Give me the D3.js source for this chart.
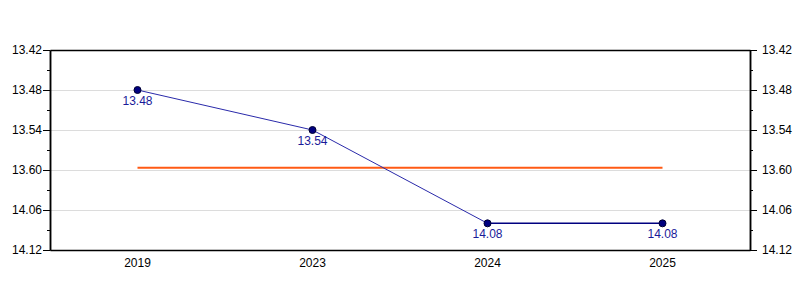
<!DOCTYPE html>
<html><head><meta charset="utf-8">
<script src="https://cdn.jsdelivr.net/npm/d3@7"></script>
<style>body{margin:0;background:#fff}svg{display:block;font-family:Arial,"Liberation Sans",sans-serif}</style>
</head><body><svg id="c" width="800" height="300"></svg>
<script>
const years = ["2019","2023","2024","2025"];
const labels = ["13.48","13.54","14.08","14.08"];
const seconds = [828, 834, 848, 848];
const tickSeconds = [822, 828, 834, 840, 846, 852];
const tickLabels = ["13.42","13.48","13.54","13.60","14.06","14.12"];
const minorTicks = [825, 831, 837, 843, 849];
const targetSeconds = 839.65;

const svg = d3.select("#c");
const L = 50, R = 750, T = 50, B = 250;
const x = d3.scaleBand().domain(years).range([L, R]).padding(0);
const y = d3.scaleLinear().domain([822, 852]).range([T, B]);
const cx = d => x(d) + x.bandwidth() / 2;

// grid
svg.append("g").selectAll("line").data(tickSeconds.slice(1, -1)).join("line")
  .attr("x1", L).attr("x2", R).attr("y1", d => y(d)).attr("y2", d => y(d))
  .attr("stroke", "#dcdcdc").attr("stroke-width", 1).attr("shape-rendering", "crispEdges");

// axes
const fmt = d => tickLabels[tickSeconds.indexOf(d)];
const gl = svg.append("g").attr("transform", `translate(${L},0)`)
  .call(d3.axisLeft(y).tickValues(tickSeconds).tickFormat(fmt).tickSize(7).tickPadding(1).tickSizeOuter(0));
const gr = svg.append("g").attr("transform", `translate(${R},0)`)
  .call(d3.axisRight(y).tickValues(tickSeconds).tickFormat(fmt).tickSize(7).tickPadding(5).tickSizeOuter(0));
svg.append("g").attr("transform", `translate(${L},0)`)
  .call(d3.axisLeft(y).tickValues(minorTicks).tickFormat("").tickSize(3).tickSizeOuter(0));
svg.append("g").attr("transform", `translate(${R},0)`)
  .call(d3.axisRight(y).tickValues(minorTicks).tickFormat("").tickSize(3).tickSizeOuter(0));
const gb = svg.append("g").attr("transform", `translate(0,${B})`)
  .call(d3.axisBottom(x).tickSize(0).tickSizeOuter(0).tickPadding(8));
const gt = svg.append("g").attr("transform", `translate(0,${T})`)
  .call(d3.axisTop(x).tickSize(0).tickSizeOuter(0).tickFormat(""));
[gl, gr, gb].forEach(g => g.selectAll("text").attr("font-size", 12).attr("fill", "#000").attr("font-family", "Arial, Liberation Sans, sans-serif"));
svg.selectAll(".domain").attr("stroke", "#000").attr("stroke-width", 1.5);
svg.selectAll(".tick line").attr("stroke", "#000");

// target line
svg.append("line").attr("x1", cx(years[0])).attr("x2", cx(years[years.length - 1]))
  .attr("y1", y(targetSeconds)).attr("y2", y(targetSeconds))
  .attr("stroke", "#ff5a14").attr("stroke-width", 2);

const pts = years.map((yr, i) => ({yr, v: seconds[i], lab: labels[i]}));
const line = d3.line().x(d => cx(d.yr)).y(d => y(d.v));
svg.append("path").datum(pts.slice(0, 3)).attr("d", line)
  .attr("fill", "none").attr("stroke", "#2a2aaa").attr("stroke-width", 1);
svg.append("path").datum(pts.slice(2)).attr("d", line)
  .attr("fill", "none").attr("stroke", "#000080").attr("stroke-width", 1.5);

svg.append("g").selectAll("circle").data(pts).join("circle")
  .attr("cx", d => cx(d.yr)).attr("cy", d => y(d.v)).attr("r", 3.5)
  .attr("fill", "#000080").attr("stroke", "#000033").attr("stroke-width", 1);
svg.append("g").selectAll("text").data(pts).join("text")
  .attr("x", d => cx(d.yr)).attr("y", d => y(d.v) + 15)
  .attr("text-anchor", "middle").attr("font-size", 12).attr("fill", "#1a1a99")
  .text(d => d.lab);
</script></body></html>
